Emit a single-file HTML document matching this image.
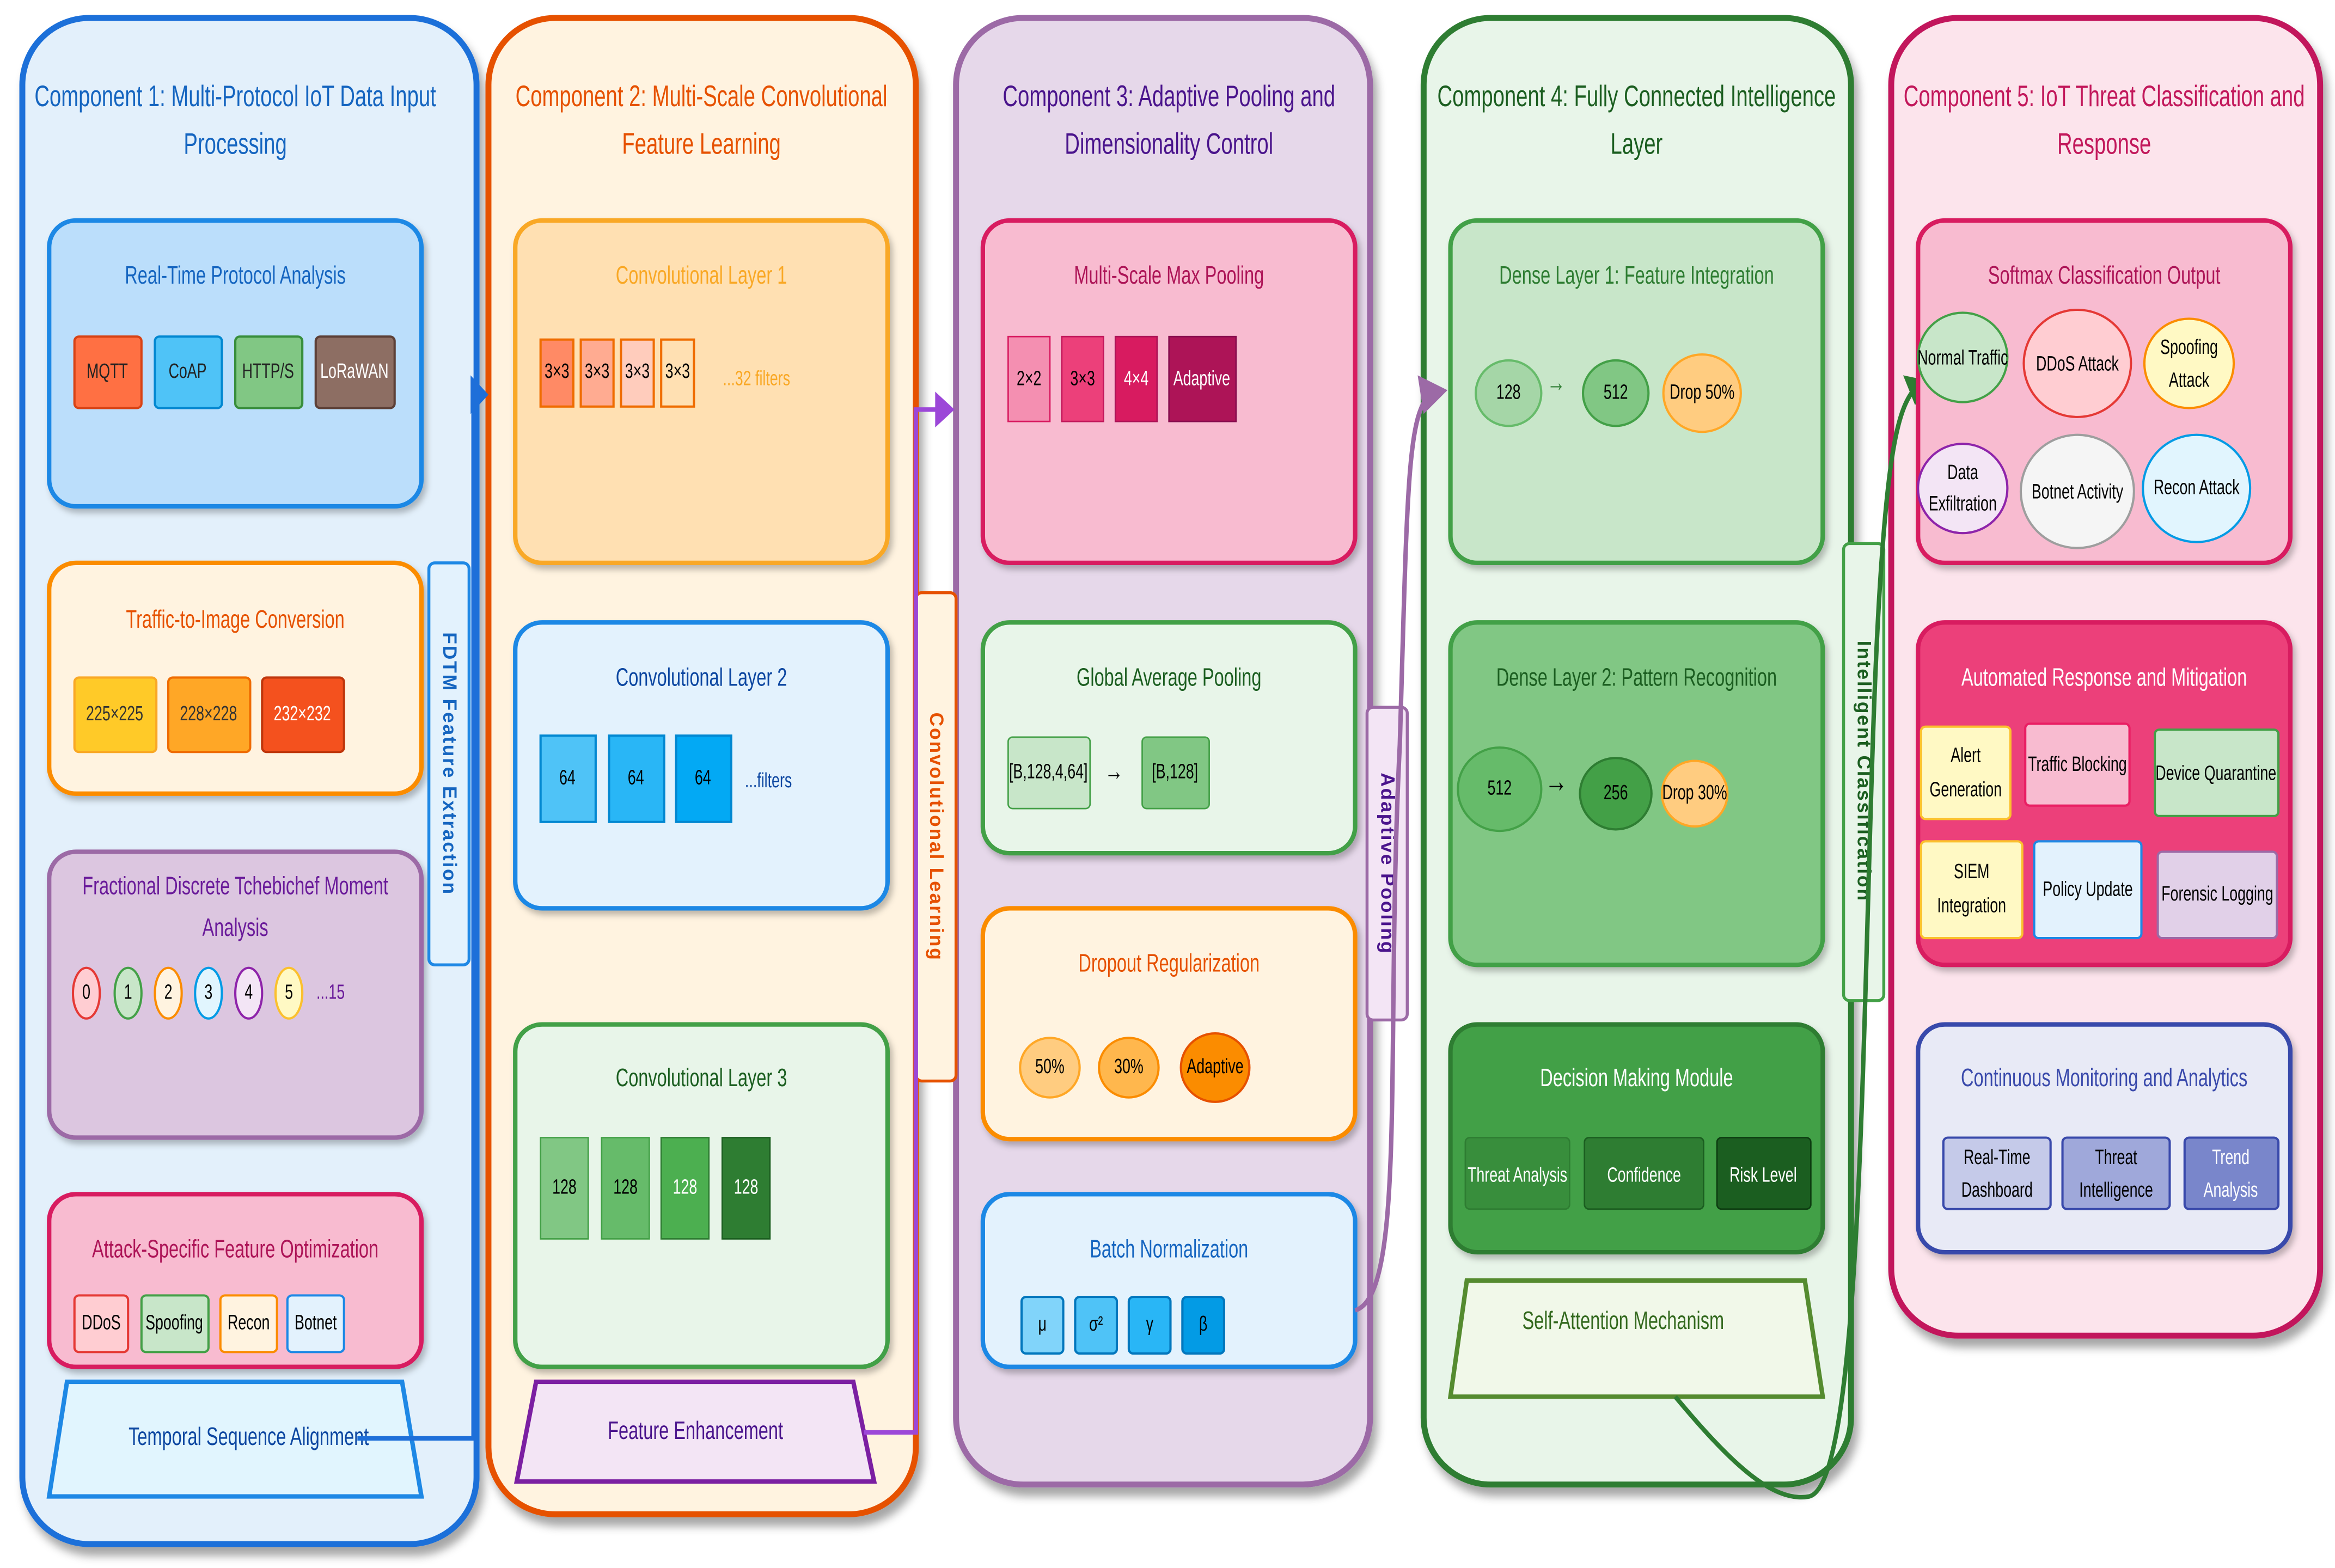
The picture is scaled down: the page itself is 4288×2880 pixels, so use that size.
<!DOCTYPE html>
<html><head><meta charset="utf-8"><style>
html,body{margin:0;padding:0;background:#fff;}
svg{display:block}
text{font-family:"Liberation Sans Narrow","Liberation Sans",sans-serif;text-anchor:middle;dominant-baseline:middle;transform-box:fill-box;transform-origin:center;transform:scaleX(0.7)}
.t{font-size:20px}
.s{font-size:17px}
.c{font-size:14px}
text.v{font-family:"Liberation Sans",sans-serif;font-size:13px;font-weight:bold;letter-spacing:1px;transform:none}
</style></head><body>
<svg width="4288" height="2880" viewBox="0 0 1568 1053" xmlns="http://www.w3.org/2000/svg">
<defs>
<filter id="sh" x="-10%" y="-10%" width="130%" height="130%"><feDropShadow dx="3" dy="6" stdDeviation="3" flood-color="#000" flood-opacity="0.35"/></filter>
<filter id="sh2" x="-10%" y="-10%" width="130%" height="130%"><feDropShadow dx="2" dy="3" stdDeviation="2" flood-color="#000" flood-opacity="0.25"/></filter>
</defs>

<rect x="15" y="12" width="305" height="1025" rx="45" fill="#e3f0fb" stroke="#1e6fd9" stroke-width="4" filter="url(#sh)"/>
<rect x="328" y="12" width="287" height="1005" rx="45" fill="#fff3e0" stroke="#e65100" stroke-width="4" filter="url(#sh)"/>
<rect x="642" y="12" width="278" height="985" rx="45" fill="#e6d8ea" stroke="#9c6aa6" stroke-width="4" filter="url(#sh)"/>
<rect x="956" y="12" width="287" height="985" rx="45" fill="#e8f5e9" stroke="#2e7d32" stroke-width="4" filter="url(#sh)"/>
<rect x="1270" y="12" width="288" height="885" rx="45" fill="#fce4ec" stroke="#c2185b" stroke-width="4" filter="url(#sh)"/>

<g class="t">
<text x="158" y="66" fill="#1565c0">Component 1: Multi-Protocol IoT Data Input</text>
<text x="158" y="98" fill="#1565c0">Processing</text>
<text x="471" y="66" fill="#e65100">Component 2: Multi-Scale Convolutional</text>
<text x="471" y="98" fill="#e65100">Feature Learning</text>
<text x="785" y="66" fill="#4a148c">Component 3: Adaptive Pooling and</text>
<text x="785" y="98" fill="#4a148c">Dimensionality Control</text>
<text x="1099" y="66" fill="#1b5e20">Component 4: Fully Connected Intelligence</text>
<text x="1099" y="98" fill="#1b5e20">Layer</text>
<text x="1413" y="66" fill="#c2185b">Component 5: IoT Threat Classification and</text>
<text x="1413" y="98" fill="#c2185b">Response</text>
</g>

<g filter="url(#sh2)">
<rect x="33" y="148" width="250" height="192" rx="18" fill="#bbdefb" stroke="#1e88e5" stroke-width="3"/>
<rect x="33" y="378" width="250" height="155" rx="18" fill="#fff3e0" stroke="#fb8c00" stroke-width="3"/>
<rect x="33" y="572" width="250" height="192" rx="18" fill="#dcc6e0" stroke="#9c6aa6" stroke-width="3"/>
<rect x="33" y="802" width="250" height="116" rx="18" fill="#f8bbd0" stroke="#d81b60" stroke-width="3"/>
</g>
<text class="s" x="158" y="186" fill="#1565c0">Real-Time Protocol Analysis</text>
<g class="c" stroke-width="1.5">
<rect x="50" y="226" width="45" height="48" rx="3" fill="#ff7043" stroke="#d84315"/><text x="72" y="250" fill="#222">MQTT</text>
<rect x="104" y="226" width="45" height="48" rx="3" fill="#4fc3f7" stroke="#0288d1"/><text x="126" y="250" fill="#222">CoAP</text>
<rect x="158" y="226" width="45" height="48" rx="3" fill="#81c784" stroke="#388e3c"/><text x="180" y="250" fill="#222">HTTP/S</text>
<rect x="212" y="226" width="53" height="48" rx="3" fill="#8d6e63" stroke="#5d4037"/><text x="238" y="250" fill="#fff">LoRaWAN</text>
</g>
<text class="s" x="158" y="417" fill="#e65100">Traffic-to-Image Conversion</text>
<g class="c" stroke-width="1.5">
<rect x="50" y="455" width="55" height="50" rx="3" fill="#ffca28" stroke="#f9a825"/><text x="77" y="480" fill="#333">225×225</text>
<rect x="113" y="455" width="55" height="50" rx="3" fill="#ffa726" stroke="#ef6c00"/><text x="140" y="480" fill="#333">228×228</text>
<rect x="176" y="455" width="55" height="50" rx="3" fill="#f4511e" stroke="#bf360c"/><text x="203" y="480" fill="#fff">232×232</text>
</g>
<text class="s" x="158" y="596" fill="#6a1b9a">Fractional Discrete Tchebichef Moment</text>
<text class="s" x="158" y="624" fill="#6a1b9a">Analysis</text>
<g class="c" stroke-width="1.5">
<ellipse cx="58" cy="667" rx="9" ry="17" fill="#ffcdd2" stroke="#e53935"/><text x="58" y="667">0</text>
<ellipse cx="86" cy="667" rx="9" ry="17" fill="#c8e6c9" stroke="#43a047"/><text x="86" y="667">1</text>
<ellipse cx="113" cy="667" rx="9" ry="17" fill="#fff3e0" stroke="#fb8c00"/><text x="113" y="667">2</text>
<ellipse cx="140" cy="667" rx="9" ry="17" fill="#e1f5fe" stroke="#039be5"/><text x="140" y="667">3</text>
<ellipse cx="167" cy="667" rx="9" ry="17" fill="#f3e5f5" stroke="#8e24aa"/><text x="167" y="667">4</text>
<ellipse cx="194" cy="667" rx="9" ry="17" fill="#fff9c4" stroke="#fbc02d"/><text x="194" y="667">5</text>
<text x="222" y="667" fill="#6a1b9a">...15</text>
</g>
<text class="s" x="158" y="840" fill="#ad1457">Attack-Specific Feature Optimization</text>
<g class="c" stroke-width="1.5">
<rect x="50" y="870" width="36" height="38" rx="3" fill="#ffcdd2" stroke="#e53935"/><text x="68" y="889">DDoS</text>
<rect x="95" y="870" width="45" height="38" rx="3" fill="#c8e6c9" stroke="#43a047"/><text x="117" y="889">Spoofing</text>
<rect x="148" y="870" width="38" height="38" rx="3" fill="#fff3e0" stroke="#fb8c00"/><text x="167" y="889">Recon</text>
<rect x="193" y="870" width="38" height="38" rx="3" fill="#e3f2fd" stroke="#1e88e5"/><text x="212" y="889">Botnet</text>
</g>
<polygon points="45,928 270,928 283,1005 33,1005" fill="#e1f5fe" stroke="#1e88e5" stroke-width="3"/>
<text class="s" x="167" y="966" fill="#0d47a1">Temporal Sequence Alignment</text>
<rect x="288" y="378" width="27" height="270" rx="4" fill="#e3f2fd" stroke="#1e88e5" stroke-width="2"/>
<g transform="translate(301,513) rotate(90)"><text class="v" x="0" y="0" fill="#1565c0">FDTM Feature Extraction</text></g>
<path d="M240,966 L318,966 L318,275" stroke="#1e6fd9" stroke-width="3" fill="none"/>
<path d="M316,252 L328,265 L316,278 z" fill="#1e6fd9"/>

<g filter="url(#sh2)">
<rect x="346" y="148" width="250" height="230" rx="18" fill="#ffe0b2" stroke="#f9a825" stroke-width="3"/>
<rect x="346" y="418" width="250" height="192" rx="18" fill="#e3f2fd" stroke="#1e88e5" stroke-width="3"/>
<rect x="346" y="688" width="250" height="230" rx="18" fill="#e8f5e9" stroke="#43a047" stroke-width="3"/>
</g>
<text class="s" x="471" y="186" fill="#f9a825">Convolutional Layer 1</text>
<g stroke-width="1.5" stroke="#ef6c00">
<rect x="363" y="228" width="22" height="45" fill="#ff8a65"/><rect x="390" y="228" width="22" height="45" fill="#ffab91"/>
<rect x="417" y="228" width="22" height="45" fill="#ffccbc"/><rect x="444" y="228" width="22" height="45" fill="#ffe0b2"/>
</g>
<g class="c"><text x="374" y="250">3×3</text><text x="401" y="250">3×3</text><text x="428" y="250">3×3</text><text x="455" y="250">3×3</text>
<text x="508" y="255" fill="#f9a825">...32 filters</text></g>
<text class="s" x="471" y="456" fill="#0d47a1">Convolutional Layer 2</text>
<g stroke-width="1.5" stroke="#0288d1">
<rect x="363" y="494" width="37" height="58" fill="#4fc3f7"/><rect x="409" y="494" width="37" height="58" fill="#29b6f6"/><rect x="454" y="494" width="37" height="58" fill="#03a9f4"/>
</g>
<g class="c"><text x="381" y="523">64</text><text x="427" y="523">64</text><text x="472" y="523">64</text><text x="516" y="525" fill="#0d47a1">...filters</text></g>
<text class="s" x="471" y="725" fill="#1b5e20">Convolutional Layer 3</text>
<rect x="363" y="764" width="32" height="68" fill="#81c784" stroke="#43a047"/>
<rect x="404" y="764" width="32" height="68" fill="#66bb6a" stroke="#43a047"/>
<rect x="444" y="764" width="32" height="68" fill="#4caf50" stroke="#2e7d32"/>
<rect x="485" y="764" width="32" height="68" fill="#2e7d32" stroke="#1b5e20"/>
<g class="c"><text x="379" y="798">128</text><text x="420" y="798">128</text><text x="460" y="798" fill="#fff">128</text><text x="501" y="798" fill="#fff">128</text></g>
<polygon points="360,928 573,928 587,995 347,995" fill="#f3e5f5" stroke="#7b1fa2" stroke-width="3"/>
<text class="s" x="467" y="962" fill="#4a148c">Feature Enhancement</text>
<rect x="615" y="398" width="27" height="328" rx="4" fill="#fff3e0" stroke="#e65100" stroke-width="2"/>
<g transform="translate(628,562) rotate(90)"><text class="v" x="0" y="0" fill="#e65100">Convolutional Learning</text></g>
<path d="M580,962 L615,962 L615,275 L630,275" stroke="#9c47d8" stroke-width="3" fill="none"/>
<path d="M628,263 L641,275 L628,287 z" fill="#9c47d8"/>

<g filter="url(#sh2)">
<rect x="660" y="148" width="250" height="230" rx="18" fill="#f8bbd0" stroke="#d81b60" stroke-width="3"/>
<rect x="660" y="418" width="250" height="155" rx="18" fill="#e8f5e9" stroke="#43a047" stroke-width="3"/>
<rect x="660" y="610" width="250" height="155" rx="18" fill="#fff3e0" stroke="#fb8c00" stroke-width="3"/>
<rect x="660" y="802" width="250" height="116" rx="18" fill="#e3f2fd" stroke="#1e88e5" stroke-width="3"/>
</g>
<text class="s" x="785" y="186" fill="#ad1457">Multi-Scale Max Pooling</text>
<rect x="677" y="226" width="28" height="57" fill="#f48fb1" stroke="#d81b60"/>
<rect x="713" y="226" width="28" height="57" fill="#ec407a" stroke="#c2185b"/>
<rect x="749" y="226" width="28" height="57" fill="#d81b60" stroke="#ad1457"/>
<rect x="785" y="226" width="45" height="57" fill="#ad1457" stroke="#880e4f"/>
<g class="c"><text x="691" y="255">2×2</text><text x="727" y="255">3×3</text><text x="763" y="255" fill="#fff">4×4</text><text x="807" y="255" fill="#fff">Adaptive</text></g>
<text class="s" x="785" y="456" fill="#1b5e20">Global Average Pooling</text>
<rect x="677" y="495" width="55" height="48" rx="3" fill="#c8e6c9" stroke="#43a047"/>
<rect x="767" y="495" width="45" height="48" rx="3" fill="#81c784" stroke="#43a047"/>
<g class="c"><text x="704" y="519">[B,128,4,64]</text><text x="748" y="519" font-size="18">→</text><text x="789" y="519">[B,128]</text></g>
<text class="s" x="785" y="648" fill="#e65100">Dropout Regularization</text>
<circle cx="705" cy="717" r="20" fill="#ffcc80" stroke="#ffa726" stroke-width="1.5"/>
<circle cx="758" cy="717" r="20" fill="#ffb74d" stroke="#fb8c00" stroke-width="1.5"/>
<circle cx="816" cy="717" r="23" fill="#fb8c00" stroke="#e65100" stroke-width="1.5"/>
<g class="c"><text x="705" y="717">50%</text><text x="758" y="717">30%</text><text x="816" y="717">Adaptive</text></g>
<text class="s" x="785" y="840" fill="#1565c0">Batch Normalization</text>
<g stroke="#0277bd" stroke-width="1.5">
<rect x="686" y="871" width="28" height="38" rx="3" fill="#81d4fa"/><rect x="722" y="871" width="28" height="38" rx="3" fill="#4fc3f7"/>
<rect x="758" y="871" width="28" height="38" rx="3" fill="#29b6f6"/><rect x="794" y="871" width="28" height="38" rx="3" fill="#039be5"/>
</g>
<g class="c"><text x="700" y="890">μ</text><text x="736" y="890">σ²</text><text x="772" y="890">γ</text><text x="808" y="890">β</text></g>
<rect x="918" y="475" width="27" height="210" rx="4" fill="#f3e5f5" stroke="#9c6aa6" stroke-width="2"/>
<g transform="translate(931,580) rotate(90)"><text class="v" x="0" y="0" fill="#4a148c">Adaptive Pooling</text></g>
<path d="M910,880 C945,870 930,700 940,500 C945,330 945,280 960,265" stroke="#9c6aa6" stroke-width="3" fill="none"/>
<path d="M952,252 L972,262 L956,278 z" fill="#9c6aa6"/>

<g filter="url(#sh2)">
<rect x="974" y="148" width="250" height="230" rx="18" fill="#c8e6c9" stroke="#43a047" stroke-width="3"/>
<rect x="974" y="418" width="250" height="230" rx="18" fill="#81c784" stroke="#43a047" stroke-width="3"/>
<rect x="974" y="688" width="250" height="153" rx="18" fill="#43a047" stroke="#2e7d32" stroke-width="3"/>
</g>
<text class="s" x="1099" y="186" fill="#2e7d32">Dense Layer 1: Feature Integration</text>
<circle cx="1013" cy="264" r="22" fill="#a5d6a7" stroke="#66bb6a" stroke-width="1.5"/>
<circle cx="1085" cy="264" r="22" fill="#81c784" stroke="#43a047" stroke-width="1.5"/>
<circle cx="1143" cy="264" r="26" fill="#ffcc80" stroke="#ffa726" stroke-width="1.5"/>
<g class="c"><text x="1013" y="264">128</text><text x="1045" y="258" font-size="18" fill="#2e7d32">→</text><text x="1085" y="264">512</text><text x="1143" y="264">Drop 50%</text></g>
<text class="s" x="1099" y="456" fill="#1b5e20">Dense Layer 2: Pattern Recognition</text>
<circle cx="1007" cy="530" r="28" fill="#66bb6a" stroke="#43a047" stroke-width="1.5"/>
<circle cx="1085" cy="533" r="24" fill="#43a047" stroke="#2e7d32" stroke-width="1.5"/>
<circle cx="1138" cy="533" r="22" fill="#ffcc80" stroke="#ffa726" stroke-width="1.5"/>
<g class="c"><text x="1007" y="530">512</text><text x="1045" y="526" font-size="22">→</text><text x="1085" y="533">256</text><text x="1138" y="533">Drop 30%</text></g>
<text class="s" x="1099" y="725" fill="#fff">Decision Making Module</text>
<rect x="984" y="764" width="70" height="48" rx="3" fill="#388e3c" stroke="#2e7d32"/>
<rect x="1064" y="764" width="80" height="48" rx="3" fill="#2e7d32" stroke="#1b5e20"/>
<rect x="1153" y="764" width="63" height="48" rx="3" fill="#1b5e20" stroke="#0d3d11"/>
<g class="c" fill="#fff"><text x="1019" y="790">Threat Analysis</text><text x="1104" y="790">Confidence</text><text x="1184" y="790">Risk Level</text></g>
<polygon points="974,938 1224,938 1212,860 985,860" fill="#f1f8e9" stroke="#558b2f" stroke-width="3"/>
<text class="s" x="1090" y="888" fill="#33691e">Self-Attention Mechanism</text>
<rect x="1238" y="365" width="27" height="307" rx="4" fill="#e8f5e9" stroke="#43a047" stroke-width="2"/>
<g transform="translate(1251,518) rotate(90)"><text class="v" x="0" y="0" fill="#1b5e20">Intelligent Classification</text></g>
<path d="M1125,938 C1160,980 1190,1010 1215,1005 C1255,995 1250,600 1262,400 C1268,300 1275,275 1285,262" stroke="#2e7d32" stroke-width="3" fill="none"/>
<path d="M1278,252 L1297,256 L1286,272 z" fill="#2e7d32"/>

<g filter="url(#sh2)">
<rect x="1288" y="148" width="250" height="230" rx="18" fill="#f8bbd0" stroke="#d81b60" stroke-width="3"/>
<rect x="1288" y="418" width="250" height="230" rx="18" fill="#ec407a" stroke="#d81b60" stroke-width="3"/>
<rect x="1288" y="688" width="250" height="153" rx="18" fill="#e8eaf6" stroke="#3949ab" stroke-width="3"/>
</g>
<text class="s" x="1413" y="186" fill="#ad1457">Softmax Classification Output</text>
<g stroke-width="1.5">
<circle cx="1318" cy="240" r="30" fill="#c8e6c9" stroke="#43a047"/>
<circle cx="1395" cy="244" r="36" fill="#ffcdd2" stroke="#e53935"/>
<circle cx="1470" cy="244" r="30" fill="#fff9c4" stroke="#fb8c00"/>
<circle cx="1318" cy="328" r="30" fill="#f3e5f5" stroke="#8e24aa"/>
<circle cx="1395" cy="330" r="38" fill="#f5f5f5" stroke="#9e9e9e"/>
<circle cx="1475" cy="328" r="36" fill="#e1f5fe" stroke="#039be5"/>
</g>
<g class="c"><text x="1318" y="241">Normal Traffic</text><text x="1395" y="245">DDoS Attack</text>
<text x="1470" y="234">Spoofing</text><text x="1470" y="256">Attack</text>
<text x="1318" y="318">Data</text><text x="1318" y="339">Exfiltration</text>
<text x="1395" y="331">Botnet Activity</text><text x="1475" y="328">Recon Attack</text></g>
<text class="s" x="1413" y="456" fill="#fff">Automated Response and Mitigation</text>
<g stroke-width="1.5">
<rect x="1290" y="488" width="60" height="62" rx="3" fill="#fff9c4" stroke="#fbc02d"/>
<rect x="1360" y="486" width="70" height="55" rx="3" fill="#f8bbd0" stroke="#e91e63"/>
<rect x="1447" y="490" width="83" height="58" rx="3" fill="#c8e6c9" stroke="#43a047"/>
<rect x="1290" y="565" width="68" height="65" rx="3" fill="#fff9c4" stroke="#fbc02d"/>
<rect x="1366" y="565" width="72" height="65" rx="3" fill="#e3f2fd" stroke="#1e88e5"/>
<rect x="1449" y="572" width="80" height="58" rx="3" fill="#e1d0e8" stroke="#9c6aa6"/>
</g>
<g class="c"><text x="1320" y="508">Alert</text><text x="1320" y="531">Generation</text>
<text x="1395" y="514">Traffic Blocking</text><text x="1488" y="520">Device Quarantine</text>
<text x="1324" y="586">SIEM</text><text x="1324" y="609">Integration</text>
<text x="1402" y="598">Policy Update</text><text x="1489" y="601">Forensic Logging</text></g>
<text class="s" x="1413" y="725" fill="#3949ab">Continuous Monitoring and Analytics</text>
<g stroke="#3949ab" stroke-width="1.5">
<rect x="1305" y="764" width="72" height="48" rx="3" fill="#c5cae9"/>
<rect x="1385" y="764" width="72" height="48" rx="3" fill="#9fa8da"/>
<rect x="1467" y="764" width="63" height="48" rx="3" fill="#7986cb"/>
</g>
<g class="c"><text x="1341" y="778">Real-Time</text><text x="1341" y="800">Dashboard</text>
<text x="1421" y="778">Threat</text><text x="1421" y="800">Intelligence</text>
<text x="1498" y="778" fill="#fff">Trend</text><text x="1498" y="800" fill="#fff">Analysis</text></g>
</svg>
</body></html>
